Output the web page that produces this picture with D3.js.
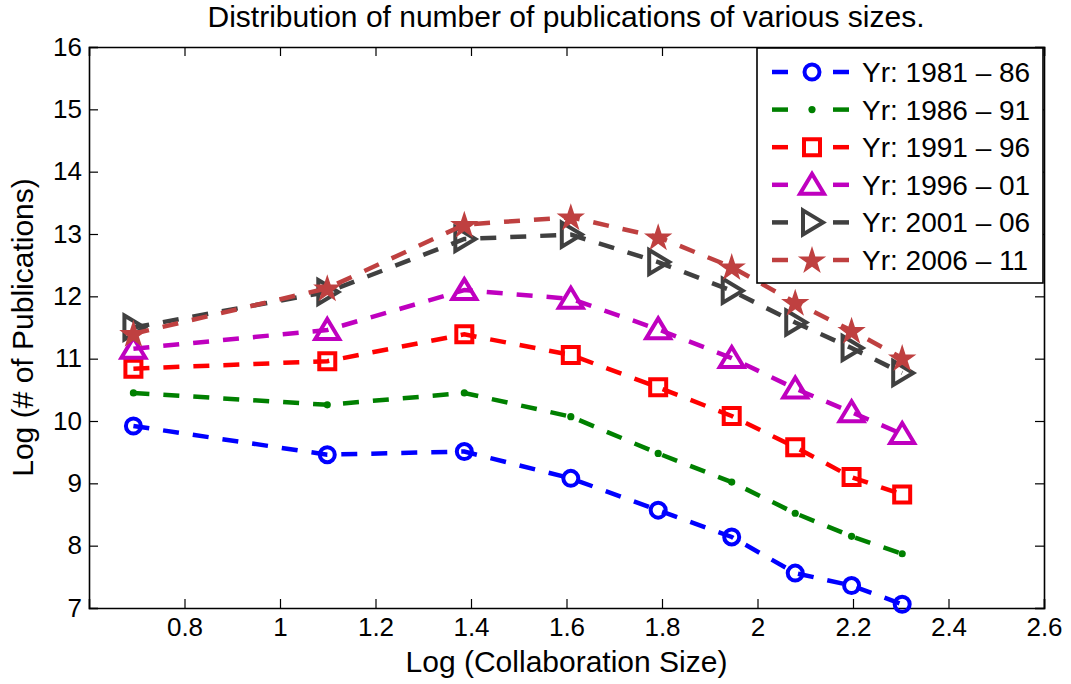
<!DOCTYPE html>
<html>
<head>
<meta charset="utf-8">
<script src="https://cdn.jsdelivr.net/npm/d3@7"></script>
<style>
  body { margin: 0; background: #fff; }
  svg { font-family: "Liberation Sans", Arial, sans-serif; }
</style>
</head>
<body>
<svg id="chart" width="1071" height="684"></svg>
<script>
// Log collaboration size vs log publication counts, one series per 5-year period

const sizes = [0.693, 1.099, 1.386, 1.609, 1.792, 1.946, 2.079, 2.197, 2.303];

const yr1981 = [9.92, 9.46, 9.51, 9.08, 8.57, 8.14, 7.56, 7.36, 7.06];
const yr1986 = [10.45, 10.26, 10.45, 10.07, 9.48, 9.02, 8.52, 8.15, 7.87];
const yr1991 = [10.84, 10.96, 11.39, 11.06, 10.54, 10.08, 9.58, 9.10, 8.82];
const yr1996 = [11.16, 11.46, 12.10, 11.96, 11.47, 11.01, 10.52, 10.14, 9.79];
const yr2001 = [11.50, 12.07, 12.92, 12.99, 12.55, 12.09, 11.58, 11.17, 10.77];
const yr2006 = [11.40, 12.13, 13.15, 13.27, 12.95, 12.47, 11.90, 11.45, 11.01];

const seriesNames = ['Yr: 1981 \u2013 86', 'Yr: 1986 \u2013 91', 'Yr: 1991 \u2013 96',
                     'Yr: 1996 \u2013 01', 'Yr: 2001 \u2013 06', 'Yr: 2006 \u2013 11'];

const xTicks = [0.8, 1, 1.2, 1.4, 1.6, 1.8, 2, 2.2, 2.4, 2.6];
const yTicks = [7, 8, 9, 10, 11, 12, 13, 14, 15, 16];

const series = [
  { name: seriesNames[0], values: yr1981, color: '#0000ff', marker: 'circle' },
  { name: seriesNames[1], values: yr1986, color: '#008000', marker: 'dot' },
  { name: seriesNames[2], values: yr1991, color: '#ff0000', marker: 'square' },
  { name: seriesNames[3], values: yr1996, color: '#bf00bf', marker: 'triup' },
  { name: seriesNames[4], values: yr2001, color: '#404040', marker: 'triright' },
  { name: seriesNames[5], values: yr2006, color: '#bf4040', marker: 'star' }
];

const margin = { top: 47, right: 27, bottom: 76, left: 89 };
const width = 1071, height = 684;

const svg = d3.select('#chart');

const x = d3.scaleLinear().domain([0.6, 2.6]).range([margin.left, width - margin.right]);
const y = d3.scaleLinear().domain([7, 16]).range([height - margin.bottom, margin.top]);

// markers drawn around (0,0)
function markerPath(type){
  if(type === 'square') return 'M-8,-8H8V8H-8Z';
  if(type === 'triup') return 'M0,-11L12,9L-12,9Z';
  if(type === 'triright') return 'M-9,-12L11,0L-9,12Z';
  if(type === 'star') return d3.symbol(d3.symbolStar, 250)();
  return null;
}

function drawMarker(sel, s){
  if(s.marker === 'circle'){
    sel.append('circle').attr('r', 7.5)
      .attr('fill', 'none').attr('stroke', s.color).attr('stroke-width', 4);
  } else if(s.marker === 'dot'){
    sel.append('circle').attr('r', 3.6).attr('fill', s.color);
  } else if(s.marker === 'star'){
    sel.append('path').attr('d', markerPath('star'))
      .attr('transform', 'translate(0,1)').attr('fill', s.color);
  } else {
    sel.append('path').attr('d', markerPath(s.marker))
      .attr('fill', 'none').attr('stroke', s.color).attr('stroke-width', 4)
      .attr('stroke-linejoin', 'miter');
  }
}

// axes with inward ticks on all four sides
const axisG = svg.append('g');

const xAxis = d3.axisBottom(x).tickValues(xTicks).tickSize(-9).tickPadding(10)
  .tickFormat(d3.format('~g'));
const yAxis = d3.axisLeft(y).tickValues(yTicks).tickSize(-9).tickPadding(7);

axisG.append('g').attr('transform', `translate(0,${y(7)})`).call(xAxis);
axisG.append('g').attr('transform', `translate(0,${y(16)})`)
  .call(d3.axisTop(x).tickValues(xTicks).tickSize(-9).tickFormat(''));
axisG.append('g').attr('transform', `translate(${x(0.6)},0)`).call(yAxis);
axisG.append('g').attr('transform', `translate(${x(2.6)},0)`)
  .call(d3.axisRight(y).tickValues(yTicks).tickSize(-9).tickFormat(''));

axisG.selectAll('.domain').attr('stroke', '#000').attr('stroke-width', 1.6);
axisG.selectAll('.tick line').attr('stroke', '#000').attr('stroke-width', 1.2);
axisG.selectAll('.tick text').attr('fill', '#000').style('font-size', '26px');

// lines
const line = d3.line().x((d, i) => x(sizes[i])).y(d => y(d));

const plot = svg.append('g');
series.forEach(s => {
  const g = plot.append('g');
  g.append('path')
    .attr('d', line(s.values))
    .attr('fill', 'none')
    .attr('stroke', s.color)
    .attr('stroke-width', 4.5)
    .attr('stroke-dasharray', '16,14');
  s.values.forEach((v, i) => {
    const m = g.append('g').attr('transform', `translate(${x(sizes[i])},${y(v)})`);
    drawMarker(m, s);
  });
});

// legend
const lx = 757, ly = 48, lw = 286, lh = 235, rowH = 37.6;
const legend = svg.append('g');
legend.append('rect')
  .attr('x', lx).attr('y', ly).attr('width', lw).attr('height', lh)
  .attr('fill', '#fff').attr('stroke', '#000').attr('stroke-width', 1.6);

series.forEach((s, i) => {
  const cy = ly + 24 + i * rowH;
  const row = legend.append('g');
  [[772, 788], [833, 849]].forEach(seg => {
    row.append('line').attr('x1', seg[0]).attr('x2', seg[1]).attr('y1', cy).attr('y2', cy)
      .attr('stroke', s.color).attr('stroke-width', 4.5);
  });
  drawMarker(row.append('g').attr('transform', `translate(812,${cy})`), s);
  row.append('text')
    .attr('x', 862).attr('y', cy + 10)
    .style('font-size', '28px')
    .text(s.name);
});

// titles
svg.append('text')
  .attr('x', 566).attr('y', 27)
  .attr('text-anchor', 'middle').style('font-size', '30px')
  .text('Distribution of number of publications of various sizes.');

svg.append('text')
  .attr('x', (x(0.6) + x(2.6)) / 2).attr('y', 672)
  .attr('text-anchor', 'middle').style('font-size', '30px')
  .text('Log (Collaboration Size)');

svg.append('text')
  .attr('transform', `translate(33,${(y(7) + y(16)) / 2}) rotate(-90)`)
  .attr('text-anchor', 'middle').style('font-size', '30px')
  .text('Log (# of Publications)');
</script>
</body>
</html>
